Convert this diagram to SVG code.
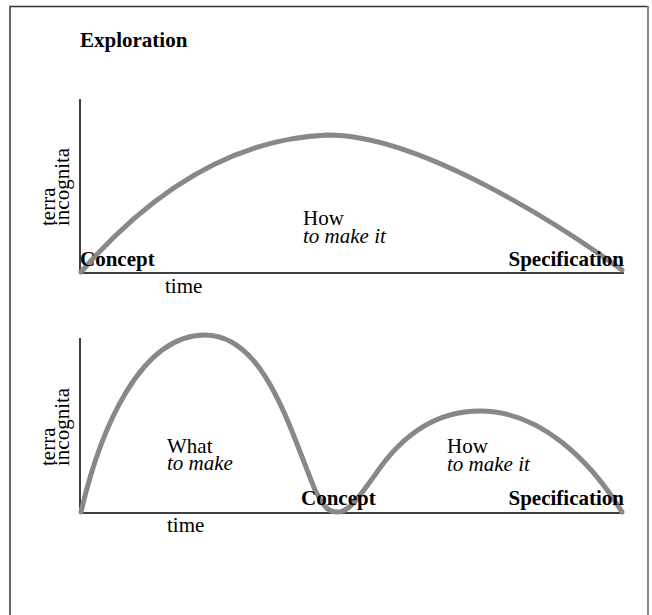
<svg xmlns="http://www.w3.org/2000/svg" width="652" height="615" viewBox="0 0 652 615">
<style>
text{font-family:"Liberation Serif","Times New Roman",serif;font-size:21px;fill:#000}
.b{font-weight:bold}
.i{font-style:italic}
.axis{stroke:#000;stroke-width:1.5;fill:none}
.curve{stroke:#888;stroke-width:5;fill:none;stroke-linecap:round}
</style>
<rect width="652" height="615" fill="#fff"/>
<g id="frame">
<path d="M10,620 V6.5 H648" fill="none" stroke="#333" stroke-width="1.5"/>
<path d="M648,6 V620" fill="none" stroke="#888" stroke-width="2"/>
</g>
<text id="title" class="b" x="80" y="47">Exploration</text>
<g id="chart1">
<path class="axis" d="M80,99 V273 H624"/>
<path class="curve" d="M81,272 C165,175 250,138 328,135 C420,135 560,225 622,270"/>
<text transform="translate(55,226) rotate(-90)"><tspan x="0" y="0">terra</tspan><tspan x="0" y="14">incognita</tspan></text>
<text class="b" x="80" y="266">Concept</text>
<text class="b" x="624" y="266" text-anchor="end">Specification</text>
<text x="303" y="225">How<tspan class="i" x="303" y="243">to make it</tspan></text>
<text x="165" y="293">time</text>
</g>
<g id="chart2">
<path class="axis" d="M80,338 V513 H624"/>
<path class="curve" d="M81,512 C100,430 140,335 205,335 C265,335 290,430 315,490 C325,510 330,512 338,512 C350,512 360,495 375,475 C405,430 440,411 480,411 C540,411 590,460 622,512"/>
<text transform="translate(55,466) rotate(-90)"><tspan x="0" y="0">terra</tspan><tspan x="0" y="14">incognita</tspan></text>
<text x="167" y="453">What<tspan class="i" x="167" y="470">to make</tspan></text>
<text class="b" x="301" y="505">Concept</text>
<text class="b" x="624" y="505" text-anchor="end">Specification</text>
<text x="447" y="453">How<tspan class="i" x="447" y="471">to make it</tspan></text>
<text x="167" y="532">time</text>
</g>
</svg>
